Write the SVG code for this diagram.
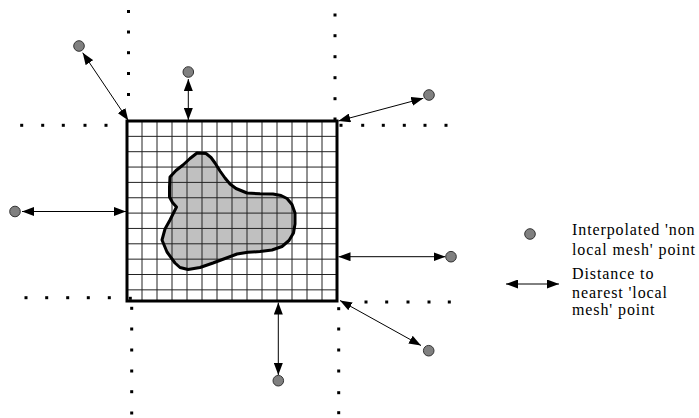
<svg xmlns="http://www.w3.org/2000/svg" width="699" height="418" viewBox="0 0 699 418">
<style>
.pt{fill:#808080;stroke:#333;stroke-width:1}
.dot{fill:#000}
.arr{stroke:#000;stroke-width:1;fill:none;marker-start:url(#ah);marker-end:url(#ah)}
.grid{stroke:#222;stroke-width:1;fill:none}
.lbl{font-family:"Liberation Serif","Times New Roman",serif;font-size:16px;letter-spacing:0.9px;fill:#000}
</style>
<defs>
<marker id="ah" viewBox="0 0 12 9" refX="12" refY="4.5" markerWidth="12" markerHeight="9" markerUnits="userSpaceOnUse" orient="auto-start-reverse">
<path d="M0,0 L12,4.5 L0,9 z" fill="#000"/>
</marker>
<rect id="d" width="3" height="3" class="dot"/>
</defs>
<rect width="699" height="418" fill="#fff"/>

<g id="dotted-lines">
<use href="#d" x="127" y="10"/><use href="#d" x="127" y="30.5"/><use href="#d" x="127" y="51.2"/><use href="#d" x="127" y="72"/><use href="#d" x="127" y="93"/>
<use href="#d" x="333.5" y="13.5"/><use href="#d" x="333.5" y="34.2"/><use href="#d" x="333.5" y="55.2"/><use href="#d" x="333.5" y="76.2"/><use href="#d" x="333.5" y="97.2"/><use href="#d" x="333.5" y="117.5"/>
<use href="#d" x="20.2" y="123.8"/><use href="#d" x="41.2" y="123.8"/><use href="#d" x="61.8" y="123.8"/><use href="#d" x="83.5" y="123.8"/><use href="#d" x="104.5" y="123.8"/>
<use href="#d" x="339.5" y="123.8"/><use href="#d" x="361.2" y="123.8"/><use href="#d" x="381.8" y="123.8"/><use href="#d" x="402.8" y="123.8"/><use href="#d" x="423.5" y="123.8"/><use href="#d" x="444.5" y="123.8"/>
<use href="#d" x="24.5" y="296.2"/><use href="#d" x="45.2" y="296.2"/><use href="#d" x="66.2" y="296.2"/><use href="#d" x="86.8" y="296.2"/><use href="#d" x="107.8" y="296.2"/><use href="#d" x="128.8" y="296.8"/>
<use href="#d" x="130.2" y="306.8"/><use href="#d" x="130.2" y="327.5"/><use href="#d" x="130.2" y="348.5"/><use href="#d" x="130.2" y="369.5"/><use href="#d" x="130.2" y="390.2"/><use href="#d" x="130.2" y="411.5"/>
<use href="#d" x="364.5" y="300.5"/><use href="#d" x="385.2" y="300.5"/><use href="#d" x="406.5" y="300.5"/><use href="#d" x="427.5" y="300.5"/><use href="#d" x="447.8" y="300.5"/>
<use href="#d" x="337.2" y="307.2"/><use href="#d" x="337.2" y="327.5"/><use href="#d" x="337.2" y="348.5"/><use href="#d" x="337.2" y="369.5"/><use href="#d" x="337.2" y="391.2"/><use href="#d" x="337.2" y="411.2"/>
</g>

<g id="local-mesh">
<polygon id="blob-fill" fill="#c0c0c0" stroke="none" points="197,153 206,153.5 211,157.5 215,163 220,171 225,178 230,184 236,188.5 247,193 260,193.8 273,194 281,195.5 287,198.5 292,204.5 295,213 295,224 293.5,233 289,240.5 282,246.5 272,250 260,251.5 248,252.3 237,254 225,258.5 213,263 200,267.5 188,269.5 180,267.5 175,263 167,252 162,240 165,229 170,220 176.5,207 172.5,202.5 169.5,197 169.5,187 170,177 176,170.5 183,165 190,158.5"/>
<path class="grid" d="M142,121V301M157,121V301M172,121V301M187,121V301M202,121V301M217,121V301M232,121V301M247,121V301M262,121V301M277,121V301M292,121V301M307,121V301M322,121V301
M127,136.35H337M127,151.7H337M127,167.05H337M127,182.4H337M127,197.75H337M127,213.1H337M127,228.45H337M127,243.8H337M127,259.15H337M127,274.5H337M127,289.85H337"/>
<polygon id="blob" fill="none" stroke="#000" stroke-width="3" stroke-linejoin="round" points="197,153 206,153.5 211,157.5 215,163 220,171 225,178 230,184 236,188.5 247,193 260,193.8 273,194 281,195.5 287,198.5 292,204.5 295,213 295,224 293.5,233 289,240.5 282,246.5 272,250 260,251.5 248,252.3 237,254 225,258.5 213,263 200,267.5 188,269.5 180,267.5 175,263 167,252 162,240 165,229 170,220 176.5,207 172.5,202.5 169.5,197 169.5,187 170,177 176,170.5 183,165 190,158.5"/>
<rect x="127" y="121" width="210" height="180" fill="none" stroke="#000" stroke-width="3"/>
</g>

<g id="connectors">
<line class="arr" x1="82.7" y1="52.7" x2="128.3" y2="120.5"/>
<line class="arr" x1="188.3" y1="79" x2="188.3" y2="120"/>
<line class="arr" x1="338.3" y1="121" x2="423.3" y2="98.3"/>
<line class="arr" x1="22" y1="211.5" x2="126" y2="211.5"/>
<line class="arr" x1="338.5" y1="256.7" x2="445.5" y2="256.7"/>
<line class="arr" x1="278.3" y1="302.5" x2="278.3" y2="375"/>
<line class="arr" x1="340" y1="300.5" x2="421" y2="345.5"/>
</g>

<g id="points">
<circle id="p-top-left" class="pt" cx="79" cy="46" r="5.3"/>
<circle id="p-top" class="pt" cx="188.3" cy="72" r="5.3"/>
<circle id="p-top-right" class="pt" cx="429" cy="95" r="5.3"/>
<circle id="p-left" class="pt" cx="15" cy="211.5" r="5.3"/>
<circle id="p-right" class="pt" cx="451" cy="256.7" r="5.3"/>
<circle id="p-bottom" class="pt" cx="278.3" cy="380.7" r="5.3"/>
<circle id="p-bottom-right" class="pt" cx="428.7" cy="350.7" r="5.3"/>
</g>

<g id="legend">
<circle class="pt" cx="530" cy="234" r="5.3"/>
<line class="arr" x1="506" y1="284" x2="559" y2="284"/>
<text class="lbl" x="572" y="235">Interpolated 'non</text>
<text class="lbl" x="572" y="255">local mesh' point</text>
<text class="lbl" x="572" y="279">Distance to</text>
<text class="lbl" x="572" y="298">nearest  'local</text>
<text class="lbl" x="572" y="315">mesh' point</text>
</g>
</svg>
